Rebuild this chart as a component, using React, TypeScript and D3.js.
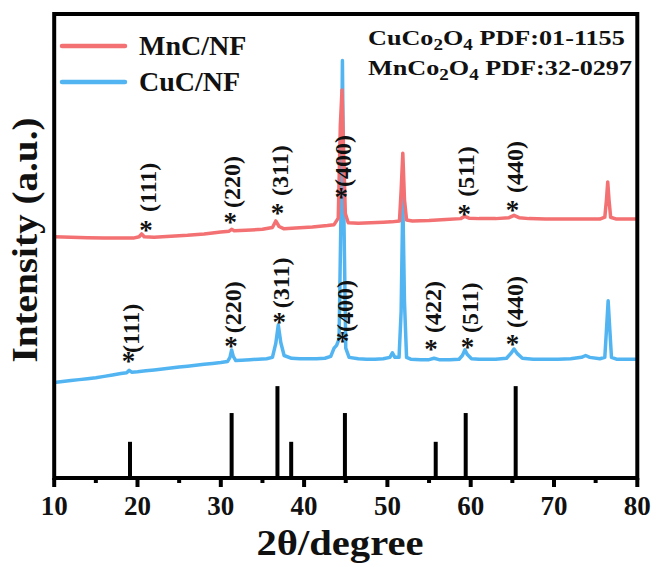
import React from "react";
import * as d3 from "d3";

// ---- data ----
const seriesNames = ["MnC/NF", "CuC/NF"];
const seriesColors = ["#F37172", "#52B5F2"];

// CuC/NF pattern: [2θ, intensity]
const cucData: [number, number][] = [
  [10, 103], [11, 104], [12, 105], [13, 106], [14, 107], [15, 108], [16, 109.5], [17, 111],
  [18, 112.5], [18.7, 113.5], [19.0, 116], [19.3, 114], [20, 114.5], [21, 115.5], [22, 116.5],
  [23, 117.5], [24, 118.5], [25, 119.5], [26, 120.5], [27, 121.5], [28, 122.5], [29, 123.5],
  [30, 124.5], [30.8, 125.5], [31.1, 130], [31.3, 138], [31.5, 131], [31.8, 126.5], [32.5, 127],
  [33.5, 127.5], [34.5, 128], [35.5, 128.5], [36.2, 130], [36.6, 145], [36.9, 165], [37.2, 146],
  [37.6, 132], [38.5, 129], [39.5, 128.5], [40.5, 128.5], [41.5, 128.5], [42.5, 129], [43.2, 131],
  [43.6, 140], [43.9, 143], [44.2, 150], [44.45, 300], [44.6, 450], [44.75, 300], [45.0, 140],
  [45.4, 130], [46.5, 128.5], [47.5, 128], [48.5, 128], [49.5, 128.5], [50.3, 130], [50.6, 135],
  [50.9, 130], [51.4, 130], [51.65, 180], [51.85, 302], [52.05, 190], [52.3, 130], [52.8, 128],
  [54, 127.5], [55, 127.5], [55.6, 129], [56.2, 127.5], [57.5, 127.5], [58.6, 128], [59.0, 132],
  [59.3, 138], [59.6, 133], [60.1, 128.5], [61, 128], [62, 128], [63, 128], [64.3, 129],
  [64.8, 134], [65.2, 139], [65.6, 134], [66.2, 129], [67.5, 128], [69, 128], [70.5, 128],
  [72, 128.5], [73.3, 130], [73.8, 132], [74.3, 130], [75.5, 128.5], [76.1, 130], [76.3, 160],
  [76.5, 191], [76.7, 160], [76.9, 130], [77.5, 128], [79, 128], [80, 128],
];

// MnC/NF pattern: [2θ, intensity]
const mncData: [number, number][] = [
  [10, 260], [12, 259.5], [14, 259], [16, 258.5], [18, 258.5], [19.5, 258.5], [20.2, 260],
  [20.5, 263], [20.8, 260], [22, 259.5], [24, 260.5], [26, 261.5], [28, 263], [30, 265],
  [31.0, 266], [31.3, 268], [31.6, 266.5], [33, 267], [35, 268], [36.2, 270], [36.6, 277],
  [37.0, 271], [37.6, 268.5], [39, 269.5], [41, 270.5], [42.8, 272], [43.6, 273], [44.1, 280],
  [44.35, 380], [44.55, 418], [44.75, 350], [44.95, 285], [45.3, 275], [46.5, 274.5], [48, 275],
  [49.5, 275.5], [50.5, 276], [51.45, 277], [51.65, 310], [51.85, 350], [52.05, 300], [52.3, 278],
  [53, 277], [55, 277.5], [57, 278.5], [58.8, 279.5], [59.3, 282], [59.8, 280], [61, 279.5],
  [63, 279.5], [64.6, 280.5], [65.2, 283], [65.8, 280.5], [67, 279.5], [69, 279], [71, 279],
  [73, 279], [75.5, 279], [76.1, 281], [76.3, 300], [76.45, 319], [76.6, 300], [76.8, 281],
  [77.5, 279], [79, 279], [80, 279],
];

// Standard reference lines (CuCo2O4 / MnCo2O4 PDF)
const refTheta = [19.1, 31.3, 36.8, 38.45, 44.9, 55.8, 59.4, 65.4];
const refIntensity = [39, 70, 99, 39, 70, 39, 70, 99];

// Peak annotations: [label, 2θ, asterisk level, label start level]
const mncLabels: [string, number, number, number][] = [
  ["(111)", 21.5, 270, 286.6], ["(220)", 31.6, 278.6, 291], ["(311)", 37.3, 289.3, 303.9],
  ["(400)", 44.95, 305.5, 313.6], ["(511)", 59.7, 287.7, 303], ["(440)", 65.5, 291.5, 307],
];
const cucLabels: [string, number, number, number][] = [
  ["(111)", 19.4, 129.3, 134.7], ["(220)", 31.7, 145.5, 156], ["(311)", 37.5, 170.8, 183],
  ["(400)", 45.1, 151.4, 157.3], ["(422)", 55.7, 142.2, 156.2], ["(511)", 60.1, 143.9, 156.2],
  ["(440)", 65.5, 147.6, 161.6],
];

const xTicks = [10, 20, 30, 40, 50, 60, 70, 80];
const xMinorTicks = [15, 25, 35, 45, 55, 65, 75];
const xDomain = [10, 80];
const yDomain = [0, 500];

const pdfLines = [
  { a: "CuCo", b: "O", rest: " PDF:01-1155" },
  { a: "MnCo", b: "O", rest: " PDF:32-0297" },
];

const FONT = "'Liberation Serif', 'Times New Roman', serif";

export default function App() {
  const W = 656, H = 567;
  const left = 54.2, right = 637.3, top = 14, bottom = 478;
  const x = d3.scaleLinear().domain(xDomain).range([left, right]);
  const y = d3.scaleLinear().domain(yDomain).range([bottom, top]);
  const line = d3
    .line<[number, number]>()
    .x((d) => x(d[0]))
    .y((d) => y(d[1]));

  const renderLabels = (labels: [string, number, number, number][], key: string) =>
    labels.map(([t, tx, sy, ly], i) => (
      <g key={key + i}>
        <text
          x={x(tx) - 4}
          y={y(sy) + 12}
          textAnchor="middle"
          fontFamily={FONT}
          fontWeight="bold"
          fontSize={27}
          fill="#111"
        >
          *
        </text>
        <text
          transform={`translate(${x(tx) + 6},${y(ly)}) rotate(-90)`}
          fontFamily={FONT}
          fontWeight="bold"
          fontSize={24}
          fill="#111"
        >
          {t}
        </text>
      </g>
    ));

  return (
    <div style={{ position: "fixed", left: 0, top: 0 }}>
      <svg width={W} height={H} style={{ display: "block", background: "#fff" }}>
        {/* reference bars */}
        {refTheta.map((t, i) => (
          <line
            key={i}
            x1={x(t)}
            x2={x(t)}
            y1={y(0)}
            y2={y(refIntensity[i])}
            stroke="#000"
            strokeWidth={4}
          />
        ))}
        {/* curves */}
        <path d={line(cucData) || ""} fill="none" stroke={seriesColors[1]} strokeWidth={3.5} strokeLinejoin="round" />
        <path d={line(mncData) || ""} fill="none" stroke={seriesColors[0]} strokeWidth={3.5} strokeLinejoin="round" />

        {renderLabels(mncLabels, "m")}
        {renderLabels(cucLabels, "c")}

        {/* frame */}
        <rect x={left} y={top} width={right - left} height={bottom - top} fill="none" stroke="#000" strokeWidth={4} />
        {/* ticks */}
        {xTicks.map((t) => (
          <line key={"M" + t} x1={x(t)} x2={x(t)} y1={bottom} y2={bottom + 9} stroke="#000" strokeWidth={4} />
        ))}
        {xMinorTicks.map((t) => (
          <line key={"m" + t} x1={x(t)} x2={x(t)} y1={bottom} y2={bottom + 5} stroke="#000" strokeWidth={4} />
        ))}
        {xTicks.map((t) => (
          <text key={"t" + t} x={x(t)} y={515} textAnchor="middle" fontFamily={FONT} fontWeight="bold" fontSize={27} fill="#111">
            {t}
          </text>
        ))}
        {/* axis titles */}
        <text x={340} y={555} textAnchor="middle" fontFamily={FONT} fontWeight="bold" fontSize={35} textLength={167} lengthAdjust="spacingAndGlyphs" fill="#111">
          2θ/degree
        </text>
        <text transform="translate(37,240) rotate(-90)" textAnchor="middle" fontFamily={FONT} fontWeight="bold" fontSize={36} textLength={245} lengthAdjust="spacingAndGlyphs" fill="#111">
          Intensity (a.u.)
        </text>

        {/* legend */}
        {seriesNames.map((n, i) => (
          <g key={n}>
            <line x1={62} x2={125} y1={46 + i * 36} y2={46 + i * 36} stroke={seriesColors[i]} strokeWidth={4.5} strokeLinecap="round" />
            <text x={139} y={55 + i * 36} fontFamily={FONT} fontWeight="bold" fontSize={28} fill="#111">
              {n}
            </text>
          </g>
        ))}

        {/* PDF cards */}
        {pdfLines.map((l, i) => (
          <text key={i} transform={`translate(368,${45 + i * 30}) scale(1.19,1)`} fontFamily={FONT} fontWeight="bold" fontSize={22} fill="#111">
            {l.a}
            <tspan fontSize={16} dy={5}>2</tspan>
            <tspan dy={-5}>{l.b}</tspan>
            <tspan fontSize={16} dy={5}>4</tspan>
            <tspan dy={-5}>{l.rest}</tspan>
          </text>
        ))}
      </svg>
    </div>
  );
}
